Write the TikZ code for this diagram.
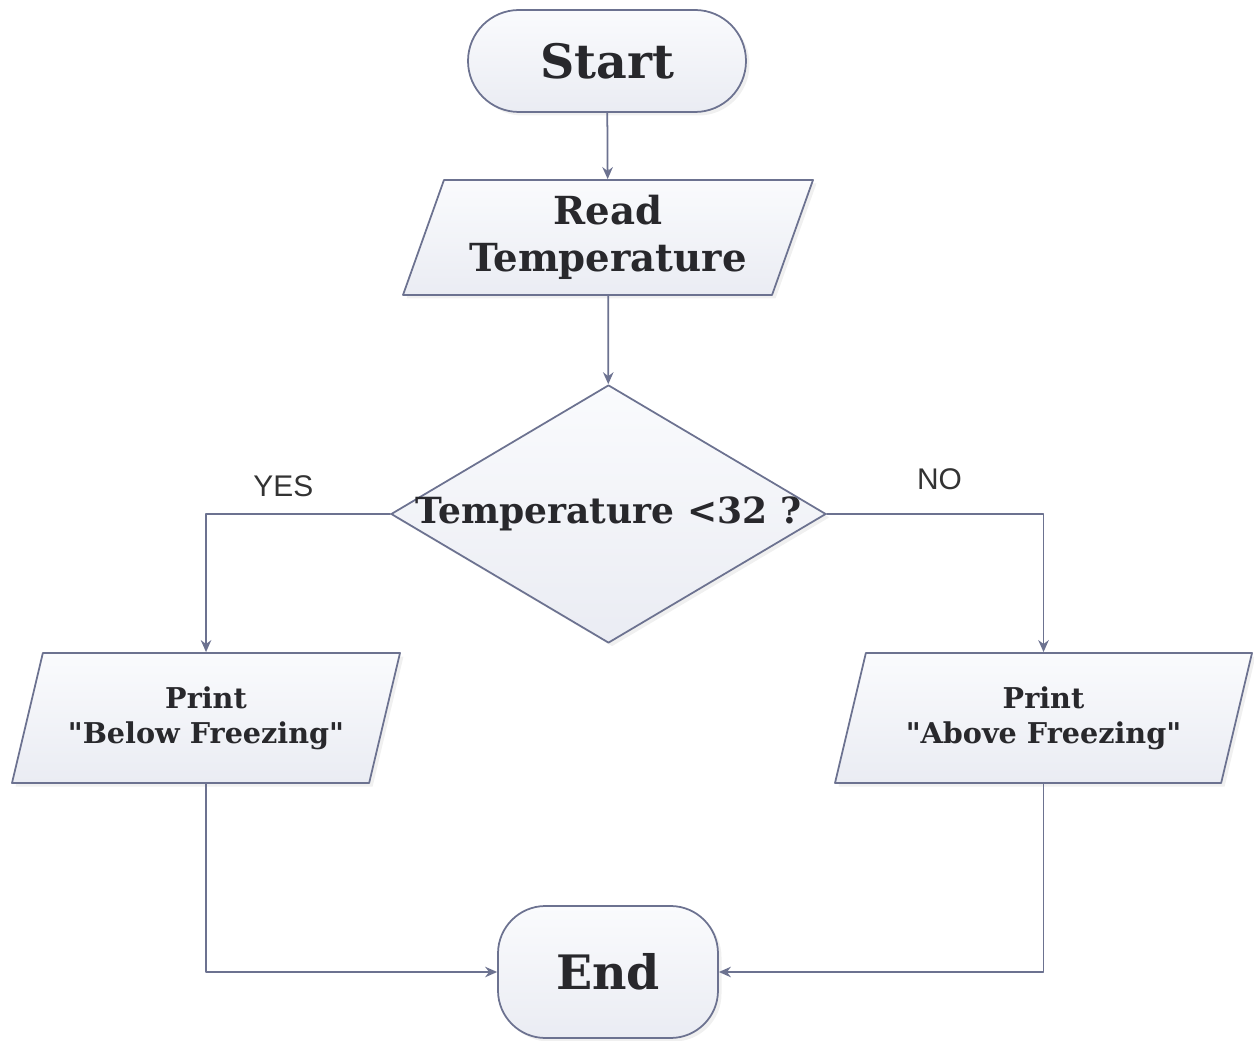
\documentclass[tikz,border=0pt]{standalone}
\usepackage{fontspec}
\setmainfont{DejaVu Serif}
\newfontfamily\labelfont{Liberation Sans}
\usetikzlibrary{shapes.geometric,shadows,arrows.meta}
\definecolor{edgegray}{RGB}{108,114,144}
\definecolor{filltop}{RGB}{250,251,253}
\definecolor{fillbot}{RGB}{234,236,243}
\definecolor{inkgray}{RGB}{40,40,44}
\begin{document}
\begin{tikzpicture}[x=1cm,y=1cm,line cap=round,line join=round,>={Stealth[length=2.4mm,width=2.1mm]},
	box/.style={draw=edgegray,line width=1pt,top color=filltop,bottom color=fillbot,
		drop shadow={opacity=0.12,shadow xshift=0.07cm,shadow yshift=-0.07cm},
		font=\bfseries,text=inkgray,align=center,inner sep=0pt},
	term/.style={box,rectangle,font=\bfseries\fontsize{27}{32}\selectfont},
	io/.style={box,trapezium,trapezium stretches body=true,
		trapezium left angle=64,trapezium right angle=116},
	decision/.style={box,diamond,minimum width=8.7cm,minimum height=5.16cm,
		font=\bfseries\fontsize{20.5}{24}\selectfont},
	flow/.style={draw=edgegray,line width=1pt,->},
	answer/.style={font=\labelfont\fontsize{17}{20}\selectfont,text=black!80}]
	\useasboundingbox (0,0) rectangle (25.08,20.8);
	% terminals
	\node[term,minimum width=5.56cm,minimum height=2.04cm,rounded corners=1.02cm] (start) at (12.14,19.58) {Start};
	\node[term,minimum width=4.4cm,minimum height=2.64cm,rounded corners=0.95cm] (end) at (12.16,1.36) {End};
	% input
	\node[io,minimum width=8.2cm,minimum height=2.3cm,font=\bfseries\fontsize{22}{26.5}\selectfont] (read) at (12.16,16.05) {Read\\Temperature};
	% test
	\node[decision] (test) at (12.17,10.52) {\makebox[0pt]{Temperature {<}32 ?}};
	% outputs
	\node[io,minimum width=7.76cm,minimum height=2.6cm,font=\bfseries\fontsize{16.3}{20}\selectfont] (below) at (4.12,6.44) {Print\\\textquotedbl Below Freezing\textquotedbl};
	\node[io,minimum width=8.34cm,minimum height=2.6cm,font=\bfseries\fontsize{16.3}{20}\selectfont] (above) at (20.87,6.44) {Print\\\textquotedbl Above Freezing\textquotedbl};
	% connectors
	\draw[flow] (start) -- (read);
	\draw[flow] (read) -- (test);
	\draw[flow] (test.west) -| node[answer,pos=0.29,above=0.2cm] {YES} (below.north);
	\draw[flow] (test.east) -| node[answer,pos=0.26,above=0.35cm] {NO} (above.north);
	\draw[flow] (below.south) |- (end.west);
	\draw[flow] (above.south) |- (end.east);
\end{tikzpicture}
\end{document}
